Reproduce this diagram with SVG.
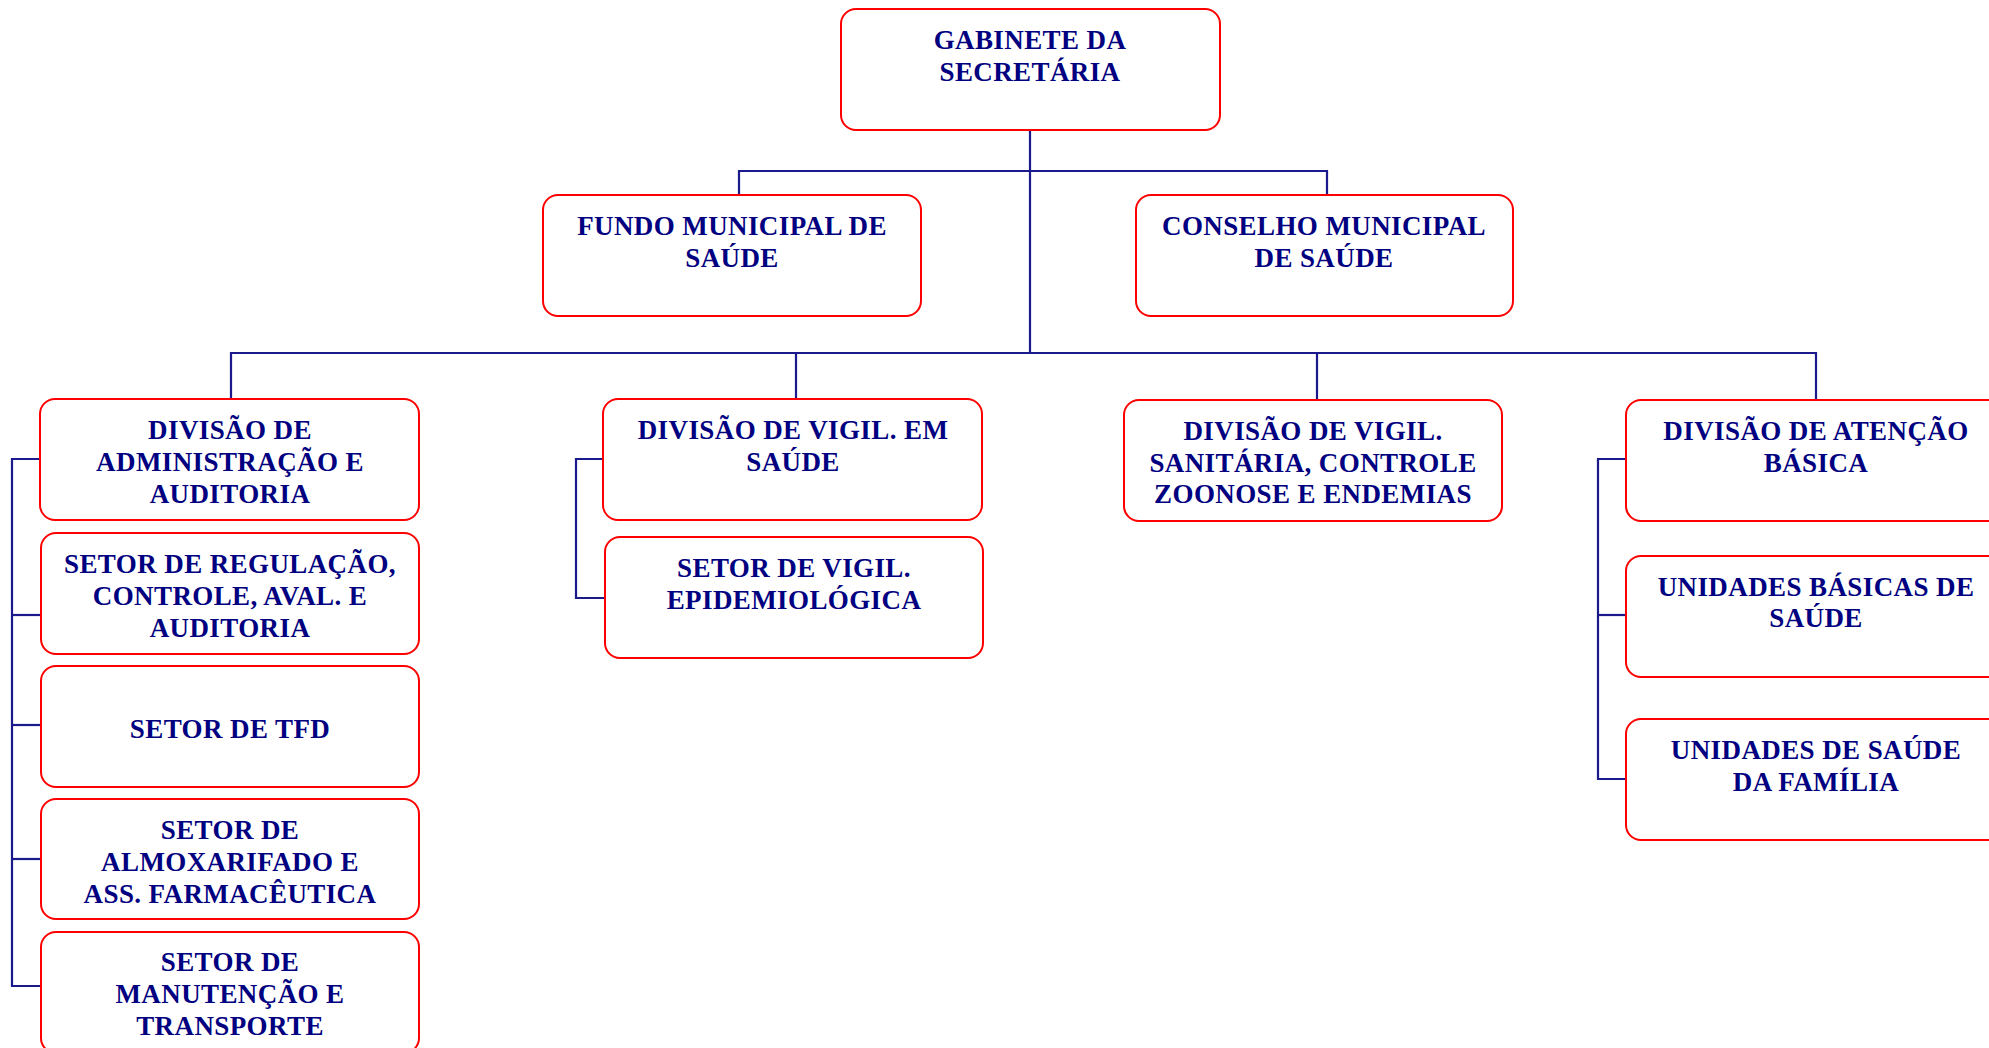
<svg xmlns="http://www.w3.org/2000/svg" width="1989" height="1048" viewBox="0 0 1989 1048">
  <style>
    .box { fill: #ffffff; stroke: #ff0000; stroke-width: 2; }
    .lbl { font-family: "Liberation Serif", "DejaVu Serif", serif; font-weight: bold; font-size: 27px; letter-spacing: 0.4px; fill: #000080; text-anchor: middle; }
    .wire { fill: none; stroke: #1a1a8c; stroke-width: 2.2; }
  </style>
  <rect width="1989" height="1048" fill="#ffffff"/>

  <!-- connectors -->
  <g id="connectors" class="wire">
    <path d="M1030,130 V353"/>
    <path d="M739,195 V171 H1327 V195"/>
    <path d="M231,399 V353 H1816 V400"/>
    <path d="M796,353 V399"/>
    <path d="M1317,353 V400"/>
    <!-- administration branch -->
    <path d="M40,459 H12 V986 H41"/>
    <path d="M12,615 H41"/>
    <path d="M12,725 H41"/>
    <path d="M12,859 H41"/>
    <!-- surveillance branch -->
    <path d="M603,459 H576 V598 H605"/>
    <!-- primary care branch -->
    <path d="M1626,459 H1598 V779 H1626"/>
    <path d="M1598,615 H1626"/>
  </g>

  <g id="gabinete">
    <rect class="box" x="841" y="9" width="379" height="121" rx="15"/>
    <text class="lbl" x="1030" y="49">GABINETE DA</text>
    <text class="lbl" x="1030" y="81">SECRETÁRIA</text>
  </g>

  <g id="fundo">
    <rect class="box" x="543" y="195" width="378" height="121" rx="15"/>
    <text class="lbl" x="732" y="235">FUNDO MUNICIPAL DE</text>
    <text class="lbl" x="732" y="267">SAÚDE</text>
  </g>

  <g id="conselho">
    <rect class="box" x="1136" y="195" width="377" height="121" rx="15"/>
    <text class="lbl" x="1324" y="235">CONSELHO MUNICIPAL</text>
    <text class="lbl" x="1324" y="267">DE SAÚDE</text>
  </g>

  <g id="div-admin">
    <rect class="box" x="40" y="399" width="379" height="121" rx="15"/>
    <text class="lbl" x="230" y="439">DIVISÃO DE</text>
    <text class="lbl" x="230" y="471">ADMINISTRAÇÃO E</text>
    <text class="lbl" x="230" y="503">AUDITORIA</text>
  </g>

  <g id="setor-regulacao">
    <rect class="box" x="41" y="533" width="378" height="121" rx="15"/>
    <text class="lbl" x="230" y="573">SETOR DE REGULAÇÃO,</text>
    <text class="lbl" x="230" y="605">CONTROLE, AVAL. E</text>
    <text class="lbl" x="230" y="637">AUDITORIA</text>
  </g>

  <g id="setor-tfd">
    <rect class="box" x="41" y="666" width="378" height="121" rx="15"/>
    <text class="lbl" x="230" y="738">SETOR DE TFD</text>
  </g>

  <g id="setor-almox">
    <rect class="box" x="41" y="799" width="378" height="120" rx="15"/>
    <text class="lbl" x="230" y="839">SETOR DE</text>
    <text class="lbl" x="230" y="871">ALMOXARIFADO E</text>
    <text class="lbl" x="230" y="903">ASS. FARMACÊUTICA</text>
  </g>

  <g id="setor-manutencao">
    <rect class="box" x="41" y="932" width="378" height="121" rx="15"/>
    <text class="lbl" x="230" y="971">SETOR DE</text>
    <text class="lbl" x="230" y="1003">MANUTENÇÃO E</text>
    <text class="lbl" x="230" y="1035">TRANSPORTE</text>
  </g>

  <g id="div-vigil-saude">
    <rect class="box" x="603" y="399" width="379" height="121" rx="15"/>
    <text class="lbl" x="793" y="439">DIVISÃO DE VIGIL. EM</text>
    <text class="lbl" x="793" y="471">SAÚDE</text>
  </g>

  <g id="setor-epidemiologica">
    <rect class="box" x="605" y="537" width="378" height="121" rx="15"/>
    <text class="lbl" x="794" y="577">SETOR DE VIGIL.</text>
    <text class="lbl" x="794" y="609">EPIDEMIOLÓGICA</text>
  </g>

  <g id="div-vigil-sanitaria">
    <rect class="box" x="1124" y="400" width="378" height="121" rx="15"/>
    <text class="lbl" x="1313" y="440">DIVISÃO DE VIGIL.</text>
    <text class="lbl" x="1313" y="472">SANITÁRIA, CONTROLE</text>
    <text class="lbl" x="1313" y="503">ZOONOSE E ENDEMIAS</text>
  </g>

  <g id="div-atencao">
    <rect class="box" x="1626" y="400" width="380" height="121" rx="15"/>
    <text class="lbl" x="1816" y="440">DIVISÃO DE ATENÇÃO</text>
    <text class="lbl" x="1816" y="472">BÁSICA</text>
  </g>

  <g id="unidades-basicas">
    <rect class="box" x="1626" y="556" width="380" height="121" rx="15"/>
    <text class="lbl" x="1816" y="596">UNIDADES BÁSICAS DE</text>
    <text class="lbl" x="1816" y="627">SAÚDE</text>
  </g>

  <g id="unidades-familia">
    <rect class="box" x="1626" y="719" width="380" height="121" rx="15"/>
    <text class="lbl" x="1816" y="759">UNIDADES DE SAÚDE</text>
    <text class="lbl" x="1816" y="791">DA FAMÍLIA</text>
  </g>
</svg>
